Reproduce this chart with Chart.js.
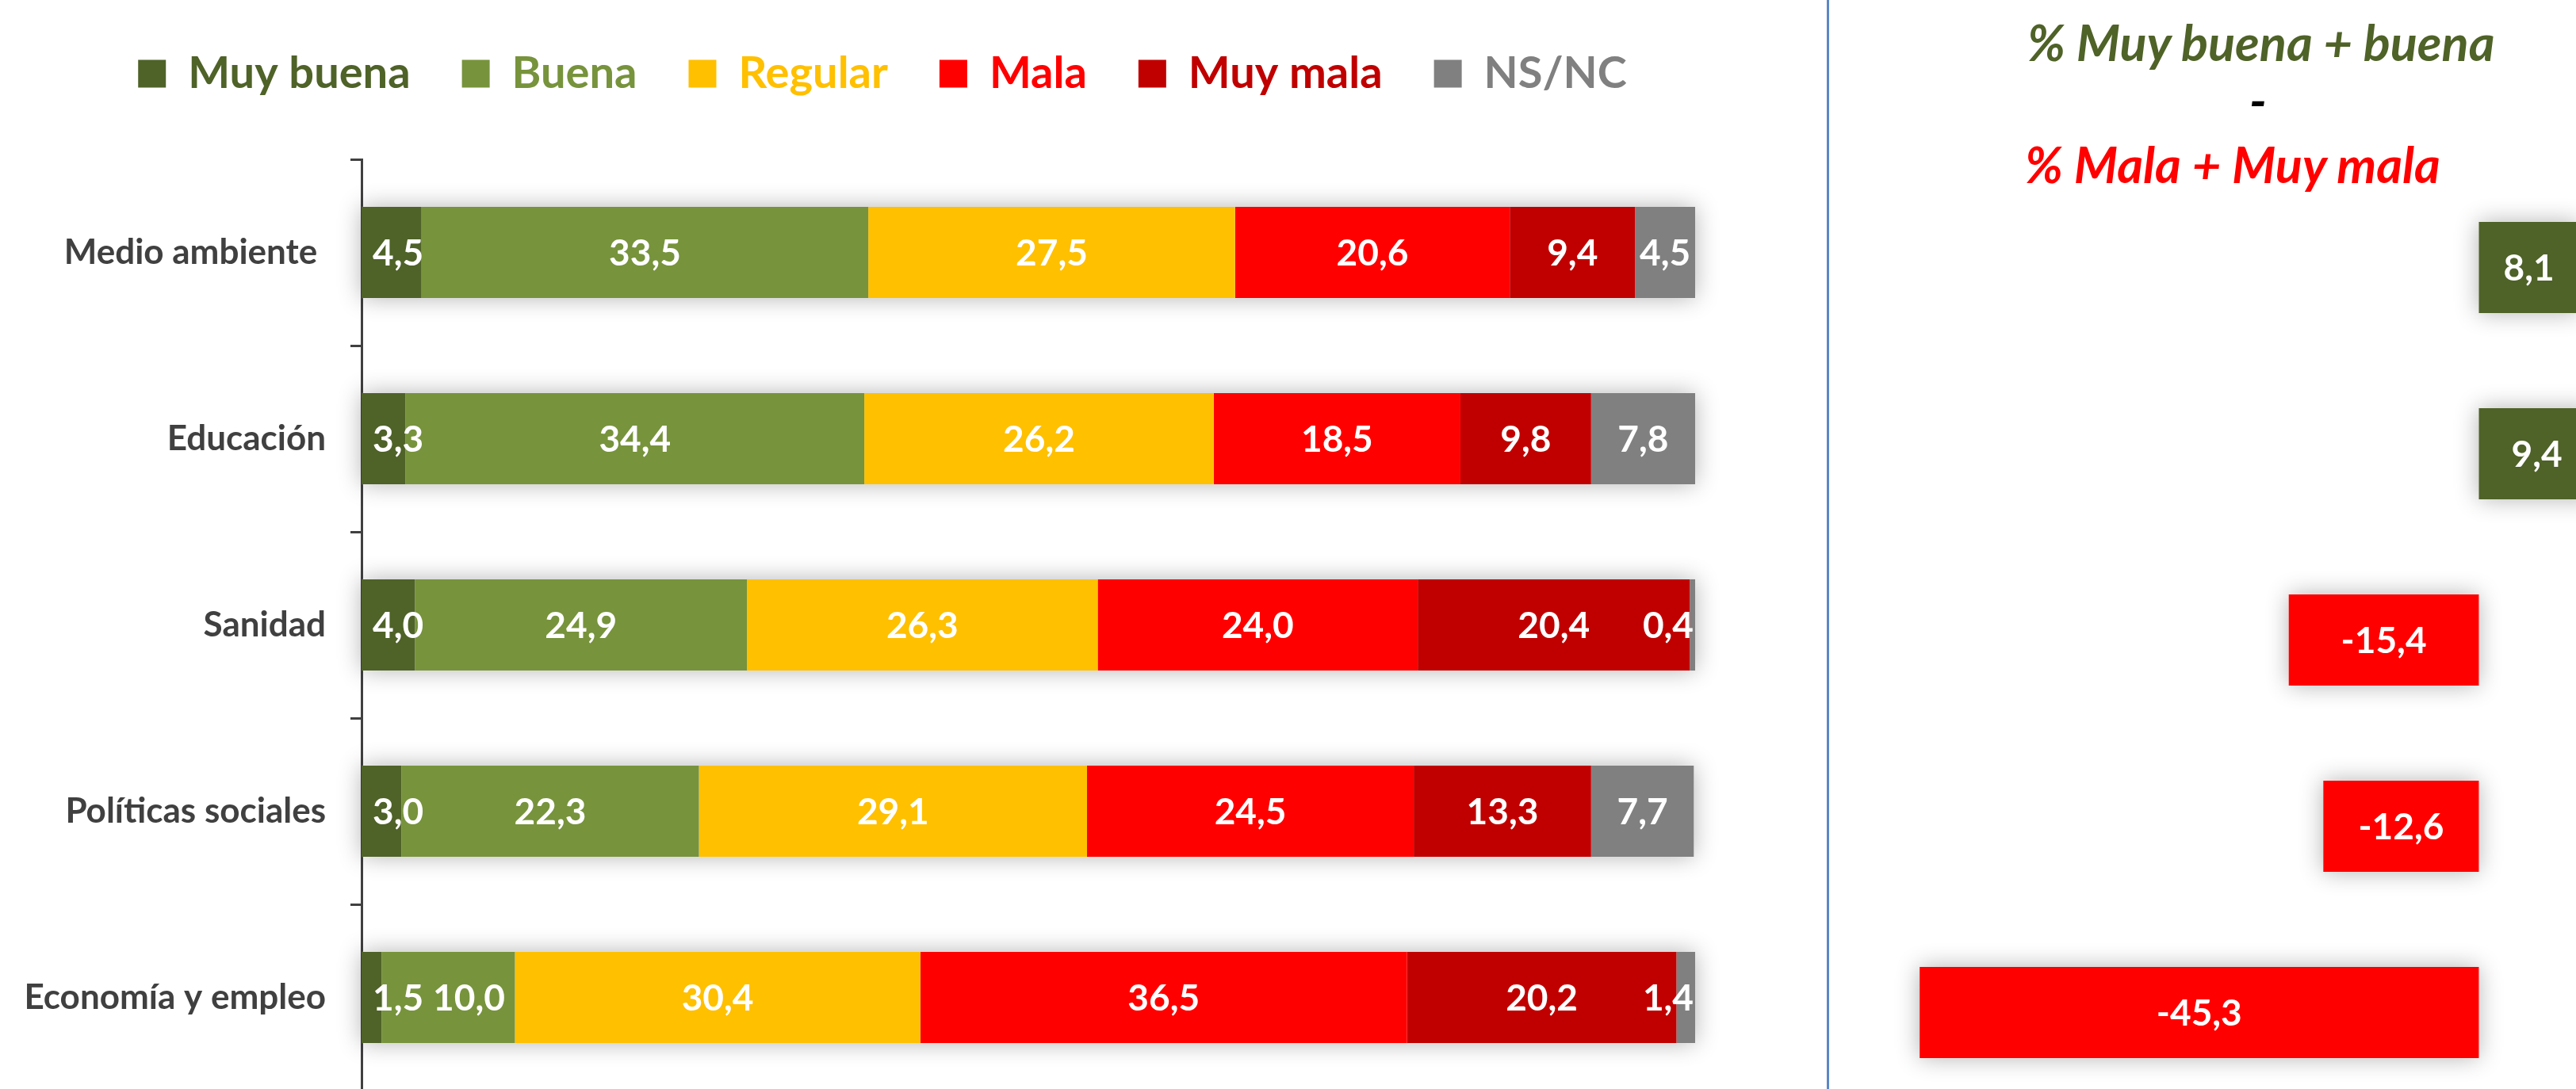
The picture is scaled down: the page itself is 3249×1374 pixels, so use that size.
<!DOCTYPE html>
<html>
<head>
<meta charset="utf-8">
<script src="https://cdn.jsdelivr.net/npm/chart.js@4.4.0/dist/chart.umd.min.js"></script>
<style>
  html, body { margin: 0; padding: 0; background: #fff; }
  body { width: 3249px; height: 1374px; overflow: hidden; position: relative; font-family: Lato, sans-serif; }
  #leftBox { position: absolute; left: 0; top: 0; width: 2226px; height: 1376px; }
  #rightBox { position: absolute; left: 2348px; top: 220px; width: 1012px; height: 1175px; }
  #divider { position: absolute; left: 2304px; top: 0; width: 3px; height: 1374px; background: #5b87c4; }
  .ttl { position: absolute; font: italic bold 63px Lato, sans-serif; white-space: nowrap; line-height: 1; }
</style>
</head>
<body>
<div id="leftBox"><canvas id="stackChart"></canvas></div>
<div id="divider"></div>
<div class="ttl" style="left:2557px; top:21px; color:#4f6228;">% Muy buena + buena</div>
<div class="ttl" style="left:2748px; top:94px; width:200px; text-align:center; color:#000;">-</div>
<div class="ttl" style="left:2554px; top:175px; color:#ff0000;">% Mala + Muy mala</div>
<div id="rightBox"><canvas id="balanceChart"></canvas></div>

<script>
'use strict';

var categories = ['Medio ambiente ', 'Educación', 'Sanidad', 'Políticas sociales', 'Economía y empleo'];
var seriesNames = ['Muy buena', 'Buena', 'Regular', 'Mala', 'Muy mala', 'NS/NC'];
var muyBuena = [4.5, 3.3, 4.0, 3.0, 1.5];
var buena    = [33.5, 34.4, 24.9, 22.3, 10.0];
var regular  = [27.5, 26.2, 26.3, 29.1, 30.4];
var mala     = [20.6, 18.5, 24.0, 24.5, 36.5];
var muyMala  = [9.4, 9.8, 20.4, 13.3, 20.2];
var nsnc     = [4.5, 7.8, 0.4, 7.7, 1.4];
var balance  = [8.1, 9.4, -15.4, -12.6, -45.3];

var colors = ['#4f6228', '#77933c', '#ffc000', '#ff0000', '#c00000', '#808080'];
var positiveColor = '#4f6228';
var negativeColor = '#ff0000';

Chart.defaults.font.family = 'Lato, sans-serif';
Chart.defaults.animation = false;

function fmt(v) {
    return v.toFixed(1).replace('.', ',');
}

// soft shadow behind every whole bar
var barShadow = {
    id: 'barShadow',
    beforeDatasetsDraw: function (chart) {
        var ctx = chart.ctx;
        var metas = chart.getSortedVisibleDatasetMetas();
        ctx.save();
        ctx.shadowColor = 'rgba(0,0,0,0.30)';
        ctx.shadowBlur = 28;
        ctx.fillStyle = '#fff';
        metas[0].data.forEach(function (el0, i) {
            var lo = Infinity, hi = -Infinity;
            metas.forEach(function (m) {
                var el = m.data[i];
                lo = Math.min(lo, el.x, el.base);
                hi = Math.max(hi, el.x, el.base);
            });
            ctx.fillRect(lo, el0.y - el0.height / 2, hi - lo, el0.height);
        });
        ctx.restore();
    }
};

// white value labels, kept inside the bar and apart from each other
var valueLabels = {
    id: 'valueLabels',
    afterDatasetsDraw: function (chart) {
        var ctx = chart.ctx;
        var area = chart.chartArea;
        var metas = chart.getSortedVisibleDatasetMetas();
        ctx.save();
        ctx.font = 'bold 46px Lato, sans-serif';
        ctx.fillStyle = '#fff';
        ctx.textAlign = 'center';
        ctx.textBaseline = 'middle';
        metas[0].data.forEach(function (el0, i) {
            var items = metas.map(function (m) {
                var el = m.data[i];
                var v = chart.data.datasets[m.index].data[i];
                var t = fmt(v);
                return { c: (el.x + el.base) / 2, t: t, w: ctx.measureText(t).width, y: el.y };
            });
            items.forEach(function (it) {
                if (it.c - it.w / 2 < area.left + 14) { it.c = area.left + 14 + it.w / 2; }
                if (it.c + it.w / 2 > area.right - 2) { it.c = area.right - 2 - it.w / 2; }
            });
            for (var k = 1; k < items.length; k++) {
                var prevRight = items[k - 1].c + items[k - 1].w / 2;
                if (items[k].c - items[k].w / 2 < prevRight + 12) {
                    items[k].c = prevRight + 12 + items[k].w / 2;
                }
            }
            items.forEach(function (it) {
                ctx.fillText(it.t, it.c, it.y + 2);
            });
        });
        ctx.restore();
    }
};

// extra room between legend and plot area
var legendGap = {
    id: 'legendGap',
    afterInit: function (chart) {
        var lg = chart.legend;
        var fit = lg.fit;
        lg.fit = function () {
            fit.call(this);
            this.height += 70;
        };
    }
};

var stackSeries = [muyBuena, buena, regular, mala, muyMala, nsnc];

var stackChart = new Chart(document.getElementById('stackChart'), {
    type: 'bar',
    data: {
        labels: categories,
        datasets: stackSeries.map(function (vals, k) {
            return {
                label: seriesNames[k],
                data: vals,
                backgroundColor: colors[k],
                borderWidth: 0,
                categoryPercentage: 1,
                barPercentage: 0.49
            };
        })
    },
    options: {
        indexAxis: 'y',
        responsive: true,
        maintainAspectRatio: false,
        layout: { padding: 0 },
        plugins: {
            tooltip: { enabled: false },
            legend: {
                position: 'top',
                labels: {
                    boxWidth: 35,
                    boxHeight: 35,
                    padding: 65,
                    font: { size: 56, weight: 'bold' },
                    generateLabels: function (chart) {
                        var items = Chart.defaults.plugins.legend.labels.generateLabels(chart);
                        items.forEach(function (it) {
                            it.fontColor = colors[it.datasetIndex];
                            it.lineWidth = 0;
                        });
                        return items;
                    }
                }
            }
        },
        scales: {
            x: {
                stacked: true,
                min: 0,
                max: 100,
                display: false
            },
            y: {
                stacked: true,
                afterFit: function (scale) {
                    scale.width = 456;
                    scale.paddingTop = 0;
                    scale.paddingBottom = 0;
                },
                border: { display: true, color: '#404040', width: 3 },
                grid: {
                    display: true,
                    drawOnChartArea: false,
                    drawTicks: true,
                    tickLength: 14,
                    color: '#404040',
                    lineWidth: 3
                },
                ticks: {
                    color: '#404040',
                    padding: 31,
                    font: { size: 44, weight: 'bold' }
                }
            },
            // empty right-hand strip so the legend sits where it does in the original
            yRight: {
                type: 'category',
                position: 'right',
                afterFit: function (scale) {
                    scale.width = 88;
                    scale.paddingTop = 0;
                    scale.paddingBottom = 0;
                },
                border: { display: false },
                grid: { display: false },
                ticks: { display: false }
            }
        }
    },
    plugins: [legendGap, barShadow, valueLabels]
});

var balanceChart = new Chart(document.getElementById('balanceChart'), {
    type: 'bar',
    data: {
        labels: categories,
        datasets: [{
            label: 'Balance',
            data: balance,
            backgroundColor: balance.map(function (v) { return v >= 0 ? positiveColor : negativeColor; }),
            borderWidth: 0,
            categoryPercentage: 1,
            barPercentage: 0.49
        }]
    },
    options: {
        indexAxis: 'y',
        responsive: true,
        maintainAspectRatio: false,
        layout: { padding: 0 },
        plugins: {
            legend: { display: false },
            tooltip: { enabled: false }
        },
        scales: {
            x: { min: -50, max: 15, display: false },
            y: { display: false }
        }
    },
    plugins: [barShadow, valueLabels]
});
</script>
</body>
</html>
